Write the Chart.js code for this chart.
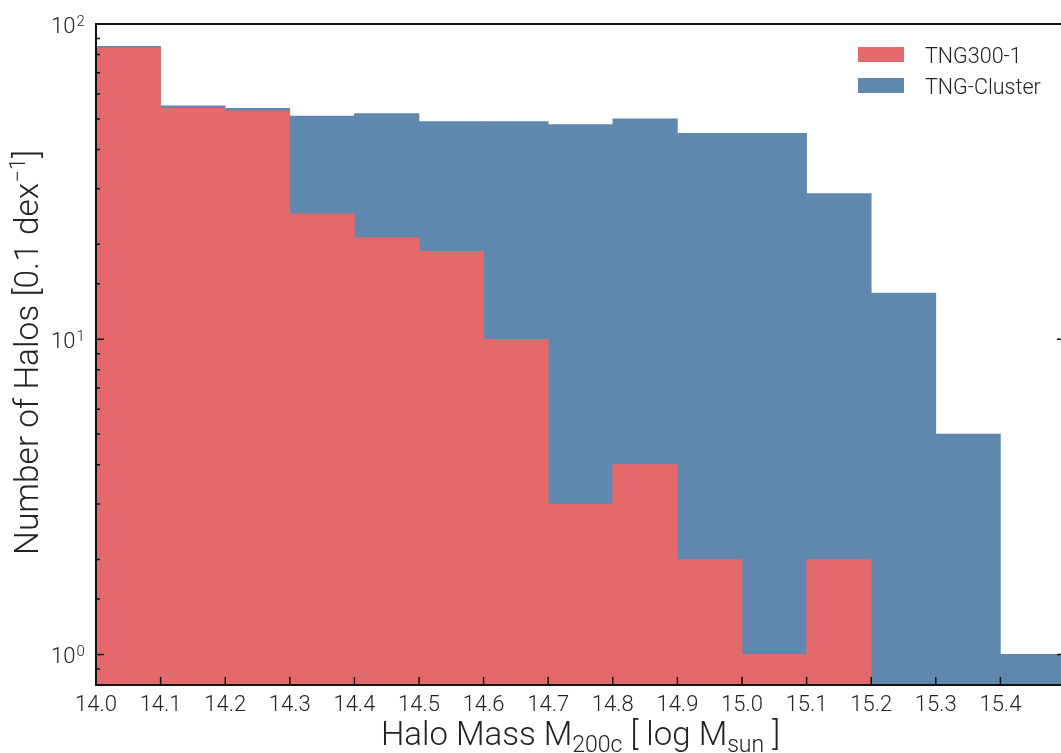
<!DOCTYPE html>
<html>
<head>
<meta charset="utf-8">
<script src="https://cdn.jsdelivr.net/npm/chart.js@4.4.1/dist/chart.umd.min.js"></script>
<style>
  html, body { margin: 0; padding: 0; background: #fff; overflow: hidden; width: 1061px; height: 753px; }
  #wrap { position: absolute; left: 0; top: 0; width: 1070px; height: 753px; }
</style>
</head>
<body>
<div id="wrap"><canvas id="c" width="1070" height="753"></canvas></div>
<script>
// Histogram bins (left edges, log M200c) and counts per 0.1 dex bin
const binLeftEdges = [14.0, 14.1, 14.2, 14.3, 14.4, 14.5, 14.6, 14.7, 14.8, 14.9, 15.0, 15.1, 15.2, 15.3, 15.4];
const binWidth = 0.1;
const tng300Counts = [84, 54, 53, 25, 21, 19, 10, 3, 4, 2, 1, 2];
const tngClusterCounts = [85, 55, 54, 51, 52, 49, 49, 48, 50, 45, 45, 29, 14, 5, 1];
const seriesNames = ['TNG300-1', 'TNG-Cluster'];
const seriesColors = ['#e3696b', '#6087ae'];

// Axis tick labels
const xTickLabels = ['14.0', '14.1', '14.2', '14.3', '14.4', '14.5', '14.6', '14.7', '14.8', '14.9', '15.0', '15.1', '15.2', '15.3', '15.4'];
const yTickExponents = [0, 1, 2];

const FONT = 'Roboto, "Open Sans", sans-serif';
const TEXT = '#222';

function toPoints(counts) {
  return counts.map((v, i) => ({ x: binLeftEdges[i] + binWidth / 2, y: v }));
}

// Draw a run of text pieces (normal / sub / superscript) on one baseline
function richWidth(ctx, parts, weight) {
  let w = 0;
  for (const p of parts) {
    ctx.font = `${weight} ${p.size}px ${FONT}`;
    w += ctx.measureText(p.text).width;
  }
  return w;
}
function drawRich(ctx, parts, x, y, weight) {
  const total = richWidth(ctx, parts, weight);
  let cx = x - total / 2;
  ctx.textAlign = 'left';
  ctx.textBaseline = 'alphabetic';
  for (const p of parts) {
    ctx.font = `${weight} ${p.size}px ${FONT}`;
    ctx.fillText(p.text, cx, y + (p.dy || 0));
    cx += ctx.measureText(p.text).width;
  }
}

const axesPlugin = {
  id: 'axesFrame',
  afterDatasetsDraw(chart) {
    const { ctx, chartArea: a, scales: { x, y } } = chart;
    ctx.save();
    ctx.strokeStyle = '#111';
    ctx.lineWidth = 1.5;

    // inward x ticks (bottom only)
    ctx.beginPath();
    for (const t of x.ticks) {
      const px = x.getPixelForValue(t.value);
      ctx.moveTo(px, a.bottom);
      ctx.lineTo(px, a.bottom - 8);
    }
    // inward y ticks, left and right, major at decades
    for (const t of y.ticks) {
      const v = t.value;
      if (v <= y.min || v >= y.max) continue;
      const lg = Math.log10(v);
      const major = Math.abs(lg - Math.round(lg)) < 1e-9;
      const len = major ? 8 : 4;
      const py = y.getPixelForValue(v);
      ctx.moveTo(a.left, py); ctx.lineTo(a.left + len, py);
      ctx.moveTo(a.right, py); ctx.lineTo(a.right - len, py);
    }
    ctx.stroke();

    // frame
    ctx.lineWidth = 2;
    ctx.strokeRect(a.left, a.top, a.right - a.left, a.bottom - a.top);
    ctx.restore();
  },
  afterDraw(chart) {
    const { ctx, chartArea: a, scales: { x, y } } = chart;
    ctx.save();
    ctx.fillStyle = TEXT;

    // x tick labels
    ctx.font = `300 22px ${FONT}`;
    ctx.textAlign = 'center';
    ctx.textBaseline = 'alphabetic';
    for (const t of x.ticks) {
      const lbl = t.value.toFixed(1);
      if (!xTickLabels.includes(lbl)) continue;
      ctx.fillText(lbl, x.getPixelForValue(t.value), 711);
    }

    // y tick labels 10^n
    for (const e of yTickExponents) {
      const py = y.getPixelForValue(Math.pow(10, e));
      ctx.font = `300 22px ${FONT}`;
      ctx.textAlign = 'right';
      ctx.fillText('10', 75.5, py + 8.5);
      ctx.font = `300 15px ${FONT}`;
      ctx.textAlign = 'left';
      ctx.fillText(String(e), 76.5, py + 2);
    }

    // x axis title
    drawRich(ctx, [
      { text: 'Halo Mass M', size: 33 },
      { text: '200c', size: 23, dy: 7 },
      { text: ' [ log M', size: 33 },
      { text: 'sun', size: 23, dy: 7 },
      { text: ' ]', size: 33 }
    ], (a.left + a.right) / 2, 745, 300);

    // y axis title
    ctx.save();
    ctx.translate(38, 352.5);
    ctx.rotate(-Math.PI / 2);
    drawRich(ctx, [
      { text: 'Number of Halos [0.1 dex', size: 33.5 },
      { text: '\u22121', size: 22, dy: -13 },
      { text: ']', size: 33.5 }
    ], 0, 0, 300);
    ctx.restore();

    // legend
    chart.data.datasets.forEach((ds, i) => {
      const top = 47 + i * 31;
      ctx.fillStyle = ds.backgroundColor;
      ctx.fillRect(858, top, 46, 15);
      ctx.fillStyle = TEXT;
      ctx.font = `300 21.5px ${FONT}`;
      ctx.textAlign = 'left';
      ctx.textBaseline = 'alphabetic';
      ctx.fillText(ds.label, 925, top + 15.5);
    });
    ctx.restore();
  }
};

new Chart(document.getElementById('c'), {
  type: 'bar',
  data: {
    datasets: [
      { label: seriesNames[0], data: toPoints(tng300Counts), backgroundColor: seriesColors[0] },
      { label: seriesNames[1], data: toPoints(tngClusterCounts), backgroundColor: seriesColors[1] }
    ]
  },
  options: {
    responsive: false,
    animation: false,
    events: [],
    grouped: false,
    barPercentage: 1,
    categoryPercentage: 1,
    borderWidth: 0,
    layout: { padding: { left: 96, top: 24, right: 5, bottom: 68 } },
    plugins: { legend: { display: false }, tooltip: { enabled: false } },
    scales: {
      x: {
        type: 'linear', display: false, offset: false,
        min: 14.0, max: 15.5,
        ticks: { stepSize: 0.1, autoSkip: false }
      },
      y: {
        type: 'logarithmic', display: false,
        min: 0.8, max: 100,
        ticks: { autoSkip: false }
      }
    }
  },
  plugins: [axesPlugin]
});
</script>
</body>
</html>
